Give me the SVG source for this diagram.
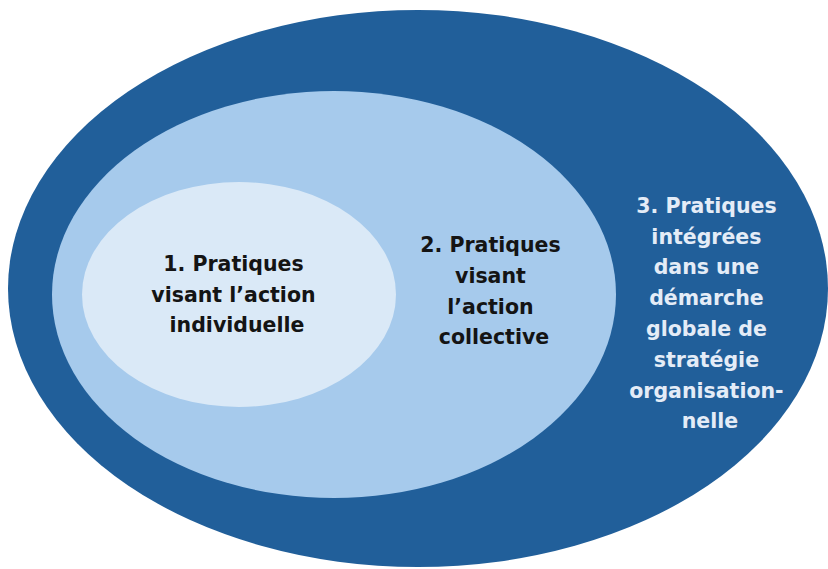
<svg xmlns="http://www.w3.org/2000/svg" width="828" height="569" viewBox="0 0 828 569">
  <style>
    .lbl { font-family: "DejaVu Sans", "Liberation Sans", sans-serif; font-weight: bold; font-size: 20.5px; text-anchor: middle; }
    .dark { fill: #141414; }
    .light { fill: #e4ecf7; }
  </style>
  <rect width="828" height="569" fill="#ffffff"/>
  <g id="level3">
    <ellipse cx="418" cy="288.5" rx="410" ry="278.5" fill="#215f9a"/>
    <text class="lbl light">
      <tspan x="710" y="213">3. Pratiques</tspan>
      <tspan x="710" y="244">intégrées</tspan>
      <tspan x="710" y="274">dans une</tspan>
      <tspan x="710" y="305">démarche</tspan>
      <tspan x="710" y="336">globale de</tspan>
      <tspan x="710" y="367">stratégie</tspan>
      <tspan x="710" y="398">organisation-</tspan>
      <tspan x="710" y="428">nelle</tspan>
    </text>
  </g>
  <g id="level2">
    <ellipse cx="334" cy="294.5" rx="282" ry="203.5" fill="#a6caec"/>
    <text class="lbl dark">
      <tspan x="494" y="252">2. Pratiques</tspan>
      <tspan x="494" y="283">visant</tspan>
      <tspan x="494" y="314">l’action</tspan>
      <tspan x="494" y="344">collective</tspan>
    </text>
  </g>
  <g id="level1">
    <ellipse cx="239" cy="294.5" rx="157" ry="112.5" fill="#dae9f7"/>
    <text class="lbl dark">
      <tspan x="237" y="271">1. Pratiques</tspan>
      <tspan x="237" y="302">visant l’action</tspan>
      <tspan x="237" y="332">individuelle</tspan>
    </text>
  </g>
</svg>
